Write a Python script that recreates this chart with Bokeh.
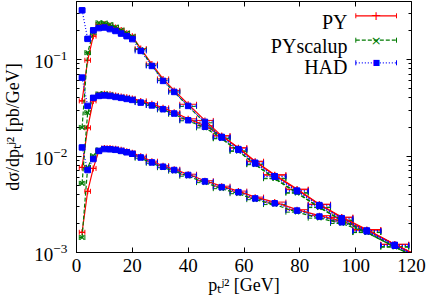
from bokeh.plotting import figure
from bokeh.models import (ColumnDataSource, Range1d, FixedTicker, LinearAxis, LogAxis,
                          Whisker, TeeHead, Label, Arrow)
from bokeh.embed import file_html
from bokeh.resources import INLINE

# ---------------- data ----------------
bin_lo = [1, 3, 5, 7, 9, 11, 13, 15, 17, 19, 21, 25, 29, 33, 37, 43, 49, 55, 61, 67, 75, 83, 91, 99, 109, 119]
bin_hi = [3, 5, 7, 9, 11, 13, 15, 17, 19, 21, 25, 29, 33, 37, 43, 49, 55, 61, 67, 75, 83, 91, 99, 109, 119, 129]

py_top = [0.0373, 0.0984, 0.175, 0.231, 0.233, 0.225, 0.215, 0.202, 0.188, 0.175, 0.130, 0.0899, 0.0630,
          0.0479, 0.0344, 0.0234, 0.0162, 0.0121, 0.00873, 0.00633, 0.00448, 0.00314, 0.00230, 0.00171,
          0.00121, 0.000867]
scal_top = [0.0198, 0.118, 0.191, 0.241, 0.239, 0.231, 0.217, 0.202, 0.188, 0.173, 0.127, 0.0869, 0.0608,
            0.0462, 0.0327, 0.0221, 0.0151, 0.0112, 0.00813, 0.00582, 0.00412, 0.00292, 0.00214, 0.00161,
            0.00114, 0.000827]
had_top = [0.324, 0.164, 0.201, 0.212, 0.215, 0.207, 0.198, 0.186, 0.175, 0.163, 0.123, 0.0859, 0.0601,
           0.0462, 0.0331, 0.0226, 0.0156, 0.0116, 0.00838, 0.00611, 0.00431, 0.00304, 0.00223, 0.00167,
           0.00118, 0.000846]

py_mid = [0.00762, 0.0196, 0.0373, 0.0431, 0.0441, 0.0436, 0.0425, 0.0415, 0.0406, 0.0396, 0.0373, 0.0348,
          0.0316, 0.0284, 0.0243, 0.0206, 0.0162, 0.0122, 0.00884, 0.00641, 0.00454, 0.00317, 0.00233,
          0.00173, 0.00122, 0.000877]
scal_mid = [0.00521, 0.0282, 0.0401, 0.0441, 0.0441, 0.0431, 0.0415, 0.0406, 0.0396, 0.0387, 0.0360, 0.0335,
            0.0301, 0.0271, 0.0232, 0.0196, 0.0153, 0.0113, 0.00823, 0.00589, 0.00417, 0.00295, 0.00217,
            0.00163, 0.00115, 0.000837]
had_mid = [0.0650, 0.0331, 0.0401, 0.0420, 0.0425, 0.0420, 0.0410, 0.0401, 0.0391, 0.0382, 0.0358, 0.0335,
           0.0306, 0.0276, 0.0235, 0.0201, 0.0158, 0.0118, 0.00852, 0.00618, 0.00438, 0.00310, 0.00227,
           0.00169, 0.00120, 0.000857]

py_bot = [0.00162, 0.00431, 0.00744, 0.0113, 0.0121, 0.0121, 0.0119, 0.0116, 0.0112, 0.01082, 0.00995,
          0.00884, 0.00794, 0.00730, 0.00648, 0.00555, 0.00487, 0.00433, 0.00375, 0.00333, 0.00278,
          0.00241, 0.00212, 0.00171, 0.00121, 0.000867]
scal_bot = [0.00143, 0.00762, 0.01007, 0.0116, 0.0119, 0.01175, 0.01148, 0.0112, 0.01082, 0.01044, 0.00949,
            0.00842, 0.00757, 0.00697, 0.00618, 0.00530, 0.00459, 0.00407, 0.00353, 0.00314, 0.00262,
            0.00227, 0.00200, 0.00161, 0.00114, 0.000827]
had_bot = [0.01228, 0.00716, 0.00931, 0.0113, 0.01181, 0.01175, 0.0116, 0.0113, 0.01094, 0.01056, 0.00967,
           0.00859, 0.00775, 0.00716, 0.00636, 0.00546, 0.00476, 0.00422, 0.00364, 0.00324, 0.00272,
           0.00236, 0.00206, 0.00166, 0.00118, 0.000846]

series_names = ["PY", "PYscalup", "HAD"]
series_colors = ["#ff0000", "#007a00", "#0000ff"]
series_dash = ["solid", "4 2", "1 2"]
series_markers = ["cross", "x", "square"]
series_values = [
    [py_top, py_mid, py_bot],
    [scal_top, scal_mid, scal_bot],
    [had_top, had_mid, had_bot],
]

x_ticks = [0, 20, 40, 60, 80, 100, 120]
y_ticks = [0.001, 0.01, 0.1]
y_minor = [k * d for d in (0.001, 0.01, 0.1) for k in range(2, 10)]
x_title = "p\u209c\u02b2\u00b2 [GeV]"
y_title = "d\u03c3/dp\u209c\u02b2\u00b2 [pb/GeV]"

SERIF = "Liberation Serif"

# ---------------- figure ----------------
p = figure(width=429, height=299, x_range=Range1d(0, 120), y_range=Range1d(0.001, 0.4),
           y_axis_type="log", output_backend="svg", toolbar_location=None,
           min_border_left=74, min_border_right=18, min_border_top=1, min_border_bottom=47)
p.xgrid.visible = False
p.ygrid.visible = False
p.outline_line_color = "black"
p.outline_line_width = 1
p.background_fill_color = "white"
p.border_fill_color = "white"

xt = FixedTicker(ticks=x_ticks)
yt = FixedTicker(ticks=y_ticks, minor_ticks=y_minor)


def style_axis(ax, labels, standoff=6):
    ax.axis_line_color = "black"
    ax.axis_line_width = 1
    ax.major_tick_in = 5
    ax.major_tick_out = 0
    ax.minor_tick_in = 3
    ax.minor_tick_out = 0
    ax.major_tick_line_color = "black"
    ax.minor_tick_line_color = "black"
    ax.major_label_text_font = SERIF
    if labels:
        ax.major_label_text_font_size = "19px"
        ax.major_label_text_color = "black"
        ax.major_label_standoff = standoff
    else:
        ax.major_label_text_font_size = "1px"
        ax.major_label_text_color = None
        ax.major_label_standoff = 0


p.xaxis.ticker = xt
p.yaxis.ticker = yt
for ax in p.xaxis:
    style_axis(ax, True, 6)
for ax in p.yaxis:
    style_axis(ax, True, 9)

p.xaxis.axis_label = x_title
p.yaxis.axis_label = y_title
for ax in list(p.xaxis) + list(p.yaxis):
    ax.axis_label_text_font = SERIF
    ax.axis_label_text_font_size = "18px"
    ax.axis_label_text_font_style = "normal"
    ax.axis_label_text_color = "black"
p.xaxis.axis_label_standoff = 0
p.yaxis.axis_label_standoff = 8

top_ax = LinearAxis(ticker=xt)
style_axis(top_ax, False)
top_ax.axis_line_color = None
p.add_layout(top_ax, "above")
right_ax = LogAxis(ticker=yt)
style_axis(right_ax, False)
right_ax.axis_line_color = None
p.add_layout(right_ax, "right")

# ---------------- data series ----------------
centers = [(a + b) / 2 for a, b in zip(bin_lo, bin_hi)]
for name, color, dash, marker, groups in zip(series_names, series_colors, series_dash,
                                             series_markers, series_values):
    for vals in groups:
        src = ColumnDataSource(dict(x=centers, y=vals, lo=bin_lo, hi=bin_hi))
        p.add_layout(Whisker(source=src, base="y", lower="lo", upper="hi", dimension="width",
                             line_color=color, line_width=1, line_dash=dash,
                             upper_head=TeeHead(size=5, line_color=color, line_width=1),
                             lower_head=TeeHead(size=5, line_color=color, line_width=1)))
        p.line("x", "y", source=src, line_color=color, line_width=1.2, line_dash=dash)
        if marker == "square":
            p.scatter("x", "y", source=src, marker=marker, size=5.5, fill_color=color, line_color=color)
        else:
            p.scatter("x", "y", source=src, marker=marker, size=6, line_color=color, line_width=1.2)


def lab(x, y, text, size="18px", align="left", baseline="alphabetic", font=SERIF, color="black"):
    p.add_layout(Label(x=x, y=y, x_units="screen", y_units="screen", text=text, text_font=font,
                       text_font_size=size, text_align=align, text_baseline=baseline,
                       text_color=color))


# ---------------- legend (gnuplot style: text left of sample) ----------------
leg_text_y = [230.3, 207, 185.3]
leg_line_y = [236.7, 212.3, 189.7]
leg_marker_text = ["+", "\u00d7", "\u25a0"]
leg_marker_size = ["13px", "13px", "8px"]
for name, color, dash, ty, ly, mt, ms in zip(series_names, series_colors, series_dash, leg_text_y,
                                              leg_line_y, leg_marker_text, leg_marker_size):
    lab(271, ty, name, size="20px", align="right")
    p.add_layout(Arrow(start=TeeHead(size=5, line_color=color, line_width=1),
                       end=TeeHead(size=5, line_color=color, line_width=1),
                       x_start=279.3, y_start=ly, x_end=320, y_end=ly,
                       start_units="screen", end_units="screen",
                       line_color=color, line_width=1.2, line_dash=dash))
    lab(299.7, ly, mt, size=ms, align="center", baseline="middle", font="DejaVu Sans", color=color)

open("out.html", "w").write(file_html(p, INLINE))
